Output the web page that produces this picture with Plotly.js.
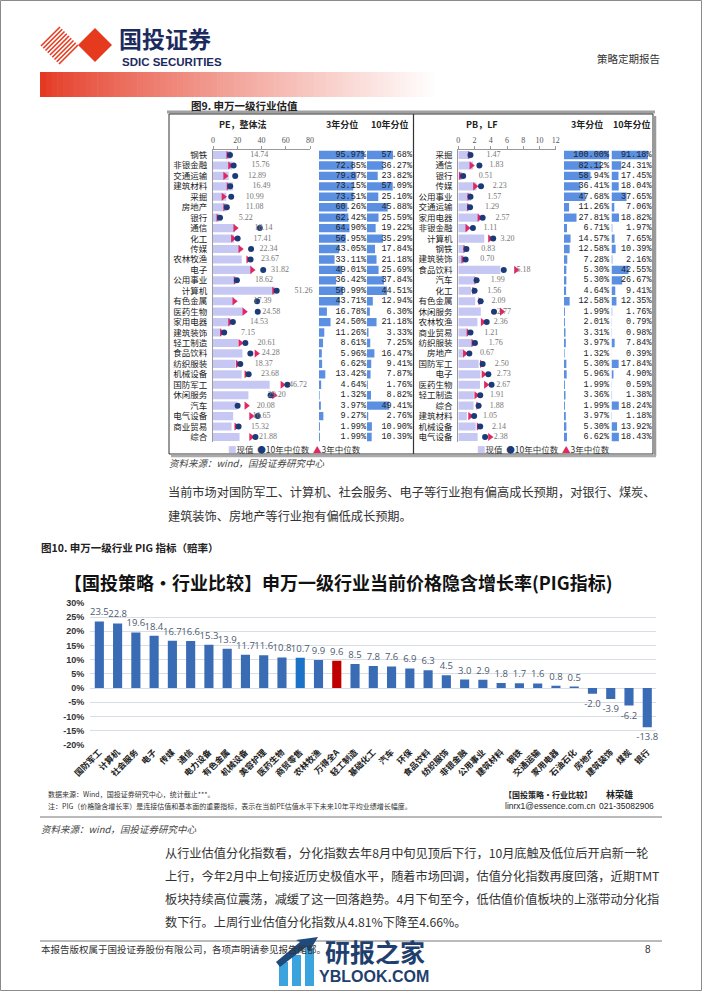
<!DOCTYPE html>
<html><head><meta charset="utf-8">
<script src="https://cdn.plot.ly/plotly-3.0.1.min.js"></script>
<style>html,body{margin:0;padding:0;background:#fff}#chart{width:702px;height:991px}</style>
</head><body><div id="chart"></div>
<script>
// ---------- Figure 9 left: PE (整体法) ----------
const peCats = ['钢铁','非银金融','交通运输','建筑材料','采掘','房地产','银行','通信','化工','传媒','农林牧渔','电子','公用事业','计算机','有色金属','医药生物','家用电器','建筑装饰','轻工制造','食品饮料','纺织服装','机械设备','国防军工','休闲服务','汽车','电气设备','商业贸易','综合'];
const peNow  = [14.74,15.76,12.89,16.49,10.99,11.08,5.22,18.14,17.41,22.34,23.67,31.82,18.62,51.26,17.39,24.58,14.53,7.15,20.61,24.28,18.37,23.68,46.72,29.20,20.08,16.65,15.32,21.88];
const pe10y  = [14.0,17.0,18.3,14.2,15.0,11.4,5.8,38.6,20.3,31.4,31.0,41.4,19.7,52.5,36.4,36.9,16.4,9.2,26.7,30.8,22.5,29.4,61.4,47.5,20.3,36.9,21.1,35.0];
const pe3y   = [12.5,14.0,10.0,12.8,8.6,10.0,4.4,18.3,16.4,22.5,29.0,32.2,18.6,50.3,17.5,25.8,14.0,7.2,22.5,35.8,20.3,27.5,57.2,50.3,27.5,31.4,19.2,31.4];
const pePct3y  = [95.97,72.85,79.87,73.15,73.51,60.26,62.42,64.90,56.95,43.05,33.11,49.01,36.42,50.99,43.71,16.78,24.50,11.26,8.61,5.96,6.62,13.42,4.64,1.32,3.97,9.27,1.99,1.99];
const pePct10y = [57.68,36.27,23.82,57.09,25.10,45.88,25.59,19.22,35.29,17.84,21.18,25.69,37.84,44.51,12.94,6.30,21.18,3.33,7.25,16.47,9.41,7.87,1.76,8.82,49.41,2.76,10.90,10.39];
const peTicks = [0,20,40,60,80];

// ---------- Figure 9 right: PB (LF) ----------
const pbCats = ['采掘','通信','银行','传媒','公用事业','交通运输','家用电器','非银金融','计算机','钢铁','建筑装饰','食品饮料','汽车','化工','有色金属','休闲服务','农林牧渔','商业贸易','纺织服装','房地产','国防军工','电子','医药生物','轻工制造','综合','建筑材料','机械设备','电气设备'];
const pbNow  = [1.47,1.83,0.51,2.23,1.57,1.29,2.57,1.11,3.20,0.83,0.70,5.18,1.99,1.56,2.09,2.77,2.36,1.21,1.76,0.67,2.50,2.73,2.67,1.91,1.88,1.05,2.14,2.38];
const pb10y  = [1.5,2.6,0.6,2.8,1.5,1.45,3.0,1.8,4.3,1.0,0.9,5.6,2.25,2.0,2.75,4.4,3.5,1.5,2.05,1.36,3.0,3.7,4.1,2.7,2.5,1.95,2.7,3.3];
const pb3y   = [1.4,1.6,0.3,2.05,1.35,1.3,2.6,1.1,3.9,0.85,0.6,7.1,2.2,1.95,2.7,5.35,3.0,1.25,1.85,0.8,2.9,3.1,3.4,2.2,2.45,1.45,2.5,3.9];
const pbPct3y  = [100.00,82.12,58.94,36.41,47.68,11.26,27.81,6.71,14.57,12.58,7.28,5.30,5.30,4.64,12.58,1.99,2.01,3.31,3.97,1.32,5.30,5.96,1.99,3.36,1.99,3.97,5.30,6.62];
const pbPct10y = [91.18,24.31,17.45,18.04,37.65,7.06,18.82,1.97,7.65,10.39,2.16,42.55,26.67,9.41,12.35,1.76,0.79,0.98,7.84,0.39,17.84,4.90,0.59,1.38,18.24,1.18,13.92,18.43];
const pbTicks = [0,2,4,6,8,10,12];

// ---------- Figure 10: PIG ----------
const pigCats = ['国防军工','计算机','社会服务','电子','传媒','通信','电力设备','有色金属','机械设备','美容护理','医药生物','商贸零售','农林牧渔','万得全A','轻工制造','基础化工','汽车','环保','食品饮料','纺织服饰','非银金融','公用事业','建筑材料','钢铁','交通运输','家用电器','石油石化','房地产','建筑装饰','煤炭','银行'];
const pigVals = [23.5,22.8,19.6,18.4,16.7,16.6,15.3,13.9,11.7,11.6,10.8,10.7,9.9,9.6,8.5,7.8,7.6,6.9,6.3,4.5,3.0,2.9,1.8,1.7,1.6,0.8,0.5,-2.0,-3.9,-6.2,-13.8];
const pigTicks = [30,25,20,15,10,5,0,-5,-10,-15,-20];

// ---------- helpers ----------
const W = 702, H = 991;
const X = p => p / W, Y = p => 1 - p / H;
const CJK = 'Noto Sans CJK SC';
const C_NOW = '#c7c7f3', C_10 = '#1b3a78', C_3 = '#e02763', C_PCT = '#5a8fe2';

function ann(text, x, y, font, extra) {
  return Object.assign({text, x: X(x), y: Y(y), xref: 'paper', yref: 'paper', showarrow: false,
    xanchor: 'left', yanchor: 'middle', borderpad: 0,
    font: Object.assign({family: CJK, size: 11, color: '#222'}, font || {})}, extra || {});
}
function seg(x0, y0, x1, y1, color, width) {
  return {type: 'line', xref: 'paper', yref: 'paper', x0: X(x0), y0: Y(y0), x1: X(x1), y1: Y(y1),
    line: {color, width: width || 1}};
}
function rect(x0, y0, x1, y1, fill, lineColor, lw) {
  return {type: 'rect', xref: 'paper', yref: 'paper', x0: X(x0), y0: Y(y0), x1: X(x1), y1: Y(y1),
    fillcolor: fill || 'rgba(0,0,0,0)', line: {color: lineColor || 'rgba(0,0,0,0)', width: lw || 0}};
}
function path(pts, fill) {
  const d = pts.map((p, i) => (i ? 'L' : 'M') + X(p[0]).toFixed(5) + ',' + Y(p[1]).toFixed(5)).join(' ') + ' Z';
  return {type: 'path', xref: 'paper', yref: 'paper', path: d, fillcolor: fill, line: {width: 0}};
}

const traces = [];
// ----- fig 9 left panel -----
traces.push({type: 'bar', orientation: 'h', x: peNow, y: peCats, xaxis: 'x', yaxis: 'y',
  marker: {color: C_NOW, line: {width: 0}}, width: 0.78});
traces.push({type: 'scatter', mode: 'markers', x: pe3y, y: peCats, xaxis: 'x', yaxis: 'y',
  marker: {symbol: 'triangle-right', size: 7, color: C_3}, cliponaxis: false});
traces.push({type: 'scatter', mode: 'markers', x: pe10y, y: peCats, xaxis: 'x', yaxis: 'y',
  marker: {symbol: 'circle', size: 6, color: C_10}, cliponaxis: false});
traces.push({type: 'scatter', mode: 'text', x: peNow.map(v => v + 16), y: peCats, xaxis: 'x', yaxis: 'y',
  text: peNow.map(v => v.toFixed(2)), textposition: 'middle right', cliponaxis: false,
  textfont: {family: 'Liberation Serif', size: 8, color: '#777'}});
traces.push({type: 'bar', orientation: 'h', x: pePct3y, y: peCats, xaxis: 'x2', yaxis: 'y',
  marker: {color: C_PCT}, width: 0.8});
traces.push({type: 'scatter', mode: 'text', x: pePct3y.map(() => 100), y: peCats, xaxis: 'x2', yaxis: 'y',
  text: pePct3y.map(v => v.toFixed(2) + '%'), textposition: 'middle left', cliponaxis: false,
  textfont: {family: 'Liberation Mono', size: 8.5, color: '#222'}});
traces.push({type: 'bar', orientation: 'h', x: pePct10y, y: peCats, xaxis: 'x3', yaxis: 'y',
  marker: {color: C_PCT}, width: 0.8});
traces.push({type: 'scatter', mode: 'text', x: pePct10y.map(() => 100), y: peCats, xaxis: 'x3', yaxis: 'y',
  text: pePct10y.map(v => v.toFixed(2) + '%'), textposition: 'middle left', cliponaxis: false,
  textfont: {family: 'Liberation Mono', size: 8.5, color: '#222'}});
// ----- fig 9 right panel -----
traces.push({type: 'bar', orientation: 'h', x: pbNow, y: pbCats, xaxis: 'x4', yaxis: 'y2',
  marker: {color: C_NOW}, width: 0.78});
traces.push({type: 'scatter', mode: 'markers', x: pb3y, y: pbCats, xaxis: 'x4', yaxis: 'y2',
  marker: {symbol: 'triangle-right', size: 7, color: C_3}, cliponaxis: false});
traces.push({type: 'scatter', mode: 'markers', x: pb10y, y: pbCats, xaxis: 'x4', yaxis: 'y2',
  marker: {symbol: 'circle', size: 6, color: C_10}, cliponaxis: false});
traces.push({type: 'scatter', mode: 'text', x: pbNow.map(v => v + 2), y: pbCats, xaxis: 'x4', yaxis: 'y2',
  text: pbNow.map(v => v.toFixed(2)), textposition: 'middle right', cliponaxis: false,
  textfont: {family: 'Liberation Serif', size: 8, color: '#777'}});
traces.push({type: 'bar', orientation: 'h', x: pbPct3y, y: pbCats, xaxis: 'x5', yaxis: 'y2',
  marker: {color: C_PCT}, width: 0.8});
traces.push({type: 'scatter', mode: 'text', x: pbPct3y.map(() => 100), y: pbCats, xaxis: 'x5', yaxis: 'y2',
  text: pbPct3y.map(v => v.toFixed(2) + '%'), textposition: 'middle left', cliponaxis: false,
  textfont: {family: 'Liberation Mono', size: 8.5, color: '#222'}});
traces.push({type: 'bar', orientation: 'h', x: pbPct10y, y: pbCats, xaxis: 'x6', yaxis: 'y2',
  marker: {color: C_PCT}, width: 0.8});
traces.push({type: 'scatter', mode: 'text', x: pbPct10y.map(() => 100), y: pbCats, xaxis: 'x6', yaxis: 'y2',
  text: pbPct10y.map(v => v.toFixed(2) + '%'), textposition: 'middle left', cliponaxis: false,
  textfont: {family: 'Liberation Mono', size: 8.5, color: '#222'}});
// ----- fig 10 -----
traces.push({type: 'bar', x: pigCats, y: pigVals, xaxis: 'x7', yaxis: 'y3', width: 0.5,
  marker: {color: pigCats.map(c => c === '万得全A' ? '#c00000' : (c === '商贸零售' ? '#1a73c6' : '#3a6cb5'))},
  text: pigVals.map(v => v.toFixed(1)), textposition: 'outside', constraintext: 'none', cliponaxis: false,
  textfont: {family: 'Open Sans', size: 9.5, color: '#4a5a70'}});

// ---------- axes ----------
const catY = (cats, anchor, top, bot) => ({type: 'category', categoryarray: cats, categoryorder: 'array',
  range: [cats.length - 0.5, -0.5], domain: [Y(bot), Y(top)], anchor,
  showline: true, linecolor: '#9a9a9a', linewidth: 1, ticks: '', showgrid: false, zeroline: false,
  tickfont: {family: CJK, size: 8.5, color: '#222'}, ticklabelstandoff: 3});
const hidX = (d0, d1, anchor) => ({domain: [X(d0), X(d1)], range: [0, 100], anchor, visible: false, fixedrange: true});

const layout = {
  width: W, height: H, margin: {l: 0, r: 0, t: 0, b: 0}, showlegend: false,
  paper_bgcolor: '#fff', plot_bgcolor: 'rgba(0,0,0,0)', bargap: 0.2,
  font: {family: CJK, size: 10, color: '#222'},
  xaxis: {domain: [X(213), X(310)], range: [0, 80], anchor: 'y', side: 'top', tickvals: peTicks,
    showline: true, linecolor: '#9a9a9a', ticks: 'outside', ticklen: 3, tickcolor: '#9a9a9a',
    showgrid: false, zeroline: false, tickfont: {family: 'Liberation Serif', size: 8, color: '#555'}},
  yaxis: catY(peCats, 'x', 149.8, 442.2),
  xaxis2: hidX(319, 366, 'y'),
  xaxis3: hidX(367, 412, 'y'),
  xaxis4: {domain: [X(458.3), X(555.7)], range: [0, 12], anchor: 'y2', side: 'top', tickvals: pbTicks,
    showline: true, linecolor: '#9a9a9a', ticks: 'outside', ticklen: 3, tickcolor: '#9a9a9a',
    showgrid: false, zeroline: false, tickfont: {family: 'Liberation Serif', size: 8, color: '#555'}},
  yaxis2: catY(pbCats, 'x4', 149.8, 442.2),
  xaxis5: hidX(564, 609, 'y2'),
  xaxis6: hidX(611.5, 651.5, 'y2'),
  xaxis7: {domain: [X(90.2), X(656.4)], range: [-0.5, pigCats.length - 0.5], anchor: 'y3', type: 'category',
    tickangle: -45, showgrid: false, showline: false, zeroline: false, ticks: '',
    tickfont: {family: CJK, size: 8.5, color: '#222', weight: 'bold'}},
  yaxis3: {domain: [Y(744.7), Y(603)], range: [-20, 30], anchor: 'x7', tickvals: pigTicks,
    ticktext: pigTicks.map(v => v + '%'), showgrid: true, gridcolor: '#d9dde5', gridwidth: 1,
    zeroline: false, showline: false, ticks: '', ticklabelstandoff: 5,
    tickfont: {family: 'Liberation Sans', size: 9, color: '#333', weight: 'bold'}}
};

// ---------- shapes ----------
const shapes = [];
shapes.push(rect(0.5, 0.5, 701.5, 990.5, null, '#8a8a8a', 1));
// logo stripes + diamond
for (let c = 87; c <= 123; c += 4.5) {
  shapes.push(seg((c - 5) / 2, (c + 5) / 2, (c + 33) / 2, (c - 33) / 2, '#e63a1e', 1.6));
}
shapes.push(path([[78, 45], [95, 28], [112, 45], [95, 62]], '#e63a1e'));
// gradient red bar
const nG = 70, gx0 = 40, gx1 = 440;
for (let i = 0; i < nG; i++) {
  const t = Math.pow(i / (nG - 1), 0.85);
  const r = Math.round(228 + (255 - 228) * t), g = Math.round(58 + (255 - 58) * t), b = Math.round(36 + (255 - 36) * t);
  const xa = gx0 + (gx1 - gx0) * i / nG, xb = gx0 + (gx1 - gx0) * (i + 1) / nG + 0.6;
  shapes.push(rect(xa, 72, xb, 97, `rgb(${r},${g},${b})`));
}
// fig 9 frame
shapes.push(seg(167, 112, 655, 112, '#a0a0a0', 3));
shapes.push(rect(169, 114, 653, 454, null, '#333', 1));
shapes.push(seg(655, 116, 655, 456, '#9a9a9a', 2.5));
shapes.push(seg(171, 456, 656, 456, '#aaaaaa', 2.5));
shapes.push(seg(413.5, 114, 413.5, 454, '#333', 1.2));
// separators
shapes.push(seg(40, 817, 662, 817, '#777', 1));
shapes.push(seg(40, 941, 662, 941, '#777', 1));
// watermark icon
shapes.push(rect(279, 962, 288, 986, '#3ba3de'));
shapes.push(rect(292, 955, 301, 986, '#3ba3de'));
shapes.push(rect(305, 948, 314, 986, '#3ba3de'));
shapes.push(path([[276, 962], [300, 942], [296, 940], [318, 937], [309, 952], [306, 947], [280, 967]], '#1f4a7c'));
layout.shapes = shapes;

// ---------- annotations ----------
const A = [];
A.push(ann('<b>国投证券</b>', 118, 38, {size: 23, color: '#1c2b5e'}));
A.push(ann('<b>SDIC SECURITIES</b>', 121, 62, {family: 'Liberation Sans Narrow, Liberation Sans', size: 11.5, color: '#1c2b5e'}));
A.push(ann('策略定期报告', 661, 59, {size: 10.5, color: '#333'}, {xanchor: 'right'}));
A.push(ann('<b>图9. 申万一级行业估值</b>', 190, 105, {size: 10.5, color: '#222'}));
A.push(ann('<b>PE，整体法</b>', 243, 124, {size: 9, color: '#222'}, {xanchor: 'center'}));
A.push(ann('<b>3年分位</b>', 342, 124, {size: 9, color: '#222'}, {xanchor: 'center'}));
A.push(ann('<b>10年分位</b>', 390, 124, {size: 9, color: '#222'}, {xanchor: 'center'}));
A.push(ann('<b>PB，LF</b>', 482, 124, {size: 9, color: '#222'}, {xanchor: 'center'}));
A.push(ann('<b>3年分位</b>', 587, 124, {size: 9, color: '#222'}, {xanchor: 'center'}));
A.push(ann('<b>10年分位</b>', 632, 124, {size: 9, color: '#222'}, {xanchor: 'center'}));
const legTxt = `<span style="color:${C_NOW}">■</span>现值  <span style="color:${C_10}">●</span>10年中位数  <span style="color:${C_3}">▲</span>3年中位数`;
A.push(ann(legTxt, 294, 449, {size: 8.5, color: '#333'}, {xanchor: 'center'}));
A.push(ann(legTxt, 543, 449, {size: 8.5, color: '#333'}, {xanchor: 'center'}));
A.push(ann('<i>资料来源：wind，国投证券研究中心</i>', 168, 463, {size: 9.5, color: '#444'}));
A.push(ann('当前市场对国防军工、计算机、社会服务、电子等行业抱有偏高成长预期，对银行、煤炭、', 167, 492, {size: 12.2, color: '#333'}));
A.push(ann('建筑装饰、房地产等行业抱有偏低成长预期。', 167, 516, {size: 12.2, color: '#333'}));
A.push(ann('<b>图10. 申万一级行业 PIG 指标（赔率）</b>', 40, 547, {size: 10.5, color: '#222'}));
A.push(ann('<b>【国投策略·行业比较】申万一级行业当前价格隐含增长率(PIG指标)</b>', 338, 582, {size: 18, color: '#111'}, {xanchor: 'center'}));
A.push(ann('数据来源：Wind，国投证券研究中心，统计截止***。', 47, 794, {size: 7, color: '#333'}));
A.push(ann('注：PIG（价格隐含增长率）是连接估值和基本面的重要指标，表示在当前PE估值水平下未来10年平均业绩增长幅度。', 47, 806, {size: 7, color: '#333'}));
A.push(ann('<b>【国投策略·行业比较】</b>', 503, 794, {size: 8, color: '#222'}));
A.push(ann('<b>林荣雄</b>', 605, 794, {size: 9, color: '#222'}));
A.push(ann('linrx1@essence.com.cn', 504, 806, {family: 'Liberation Sans Narrow, Liberation Sans', size: 8.5, color: '#222'}));
A.push(ann('021-35082906', 598, 806, {family: 'Liberation Sans Narrow, Liberation Sans', size: 8.5, color: '#222'}));
A.push(ann('<i>资料来源：wind，国投证券研究中心</i>', 40, 829, {size: 9.5, color: '#444'}));
const para = ['从行业估值分化指数看，分化指数去年8月中旬见顶后下行，10月底触及低位后开启新一轮',
  '上行，今年2月中上旬接近历史极值水平，随着市场回调，估值分化指数再度回落，近期TMT',
  '板块持续高位震荡，减缓了这一回落趋势。4月下旬至今，低估值价值板块的上涨带动分化指',
  '数下行。上周行业估值分化指数从4.81%下降至4.66%。'];
para.forEach((t, i) => A.push(ann(t, 164, 853 + i * 23, {size: 12.2, color: '#333'})));
A.push(ann('本报告版权属于国投证券股份有限公司，各项声明请参见报告尾部。', 40, 949, {size: 9.5, color: '#333'}));
A.push(ann('8', 648, 949, {family: 'Liberation Sans', size: 10, color: '#333'}, {xanchor: 'center'}));
A.push(ann('<b>研报之家</b>', 375, 951, {size: 25, color: '#1f3f6e'}, {xanchor: 'center'}));
A.push(ann('<b>YBLOOK.COM</b>', 374, 976, {family: 'Liberation Sans', size: 16, color: '#1f3f6e'}, {xanchor: 'center'}));
layout.annotations = A;

Plotly.newPlot('chart', traces, layout, {staticPlot: true, displayModeBar: false});
</script></body></html>
